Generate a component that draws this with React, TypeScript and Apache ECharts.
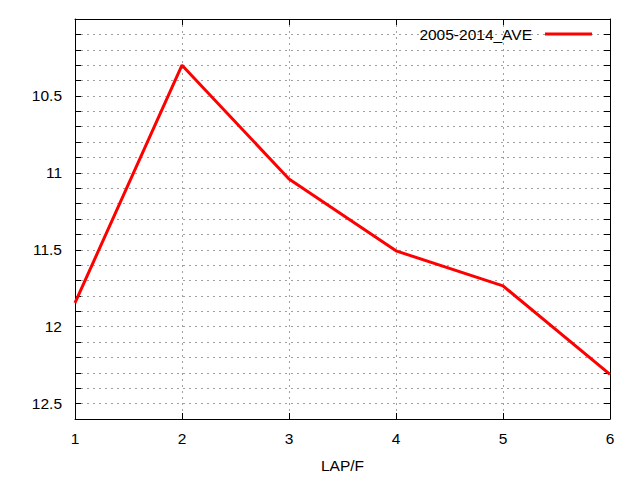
import React, { useEffect, useRef } from "react";
import * as echarts from "echarts";

const laps = [1, 2, 3, 4, 5, 6];
const aveValues = [11.845, 10.3, 11.04, 11.507, 11.735, 12.31];
const seriesName = "2005-2014_AVE";
const xName = "LAP/F";

const FONT = "Liberation Sans, Arial, sans-serif";
const FS = 15.5;

export default function App() {
  const ref = useRef<HTMLDivElement>(null);
  useEffect(() => {
    if (!ref.current) return;
    const chart = echarts.init(ref.current, null, { renderer: "svg" });
    const grid = "#a0a0a0";
    const yLabel = (v: number) => {
      const r = Math.round(v * 10) / 10;
      if (Math.abs(r * 2 - Math.round(r * 2)) < 1e-6 && Math.abs(r - 10) > 1e-6) return String(r);
      return "";
    };
    const common = {
      axisLine: { show: true, lineStyle: { color: "#000", width: 1 } },
      axisTick: { show: true, inside: true, length: 6, lineStyle: { color: "#000", width: 1 } },
    };
    chart.setOption({
      animation: false,
      backgroundColor: "#fff",
      textStyle: { fontFamily: FONT },
      grid: { left: 75, right: 30, top: 19, bottom: 61, containLabel: false },
      legend: {
        show: true,
        right: 43,
        top: 21,
        align: "right",
        icon: "rect",
        itemWidth: 47,
        itemHeight: 3,
        textStyle: { fontFamily: FONT, fontSize: FS, color: "#000", padding: [0, 8, 0, 0] },
        data: [{ name: seriesName, icon: "rect" }],
      },
      xAxis: [
        {
          type: "value",
          min: 1,
          max: 6,
          interval: 1,
          position: "bottom",
          name: xName,
          nameLocation: "middle",
          nameGap: 38,
          nameTextStyle: { fontFamily: FONT, fontSize: FS, color: "#000" },
          ...common,
          axisLabel: { fontFamily: FONT, fontSize: FS, color: "#000", margin: 11 },
          splitLine: { show: true, lineStyle: { color: grid, type: [2, 4], width: 1 } },
        },
        {
          type: "value",
          min: 1,
          max: 6,
          interval: 1,
          position: "top",
          ...common,
          axisLabel: { show: false },
          splitLine: { show: false },
        },
      ],
      yAxis: [
        {
          type: "value",
          inverse: true,
          min: 10,
          max: 12.6,
          interval: 0.1,
          position: "left",
          ...common,
          axisLabel: { fontFamily: FONT, fontSize: FS, color: "#000", margin: 13, formatter: yLabel },
          splitLine: { show: true, lineStyle: { color: grid, type: [2, 4], width: 1 } },
        },
        {
          type: "value",
          inverse: true,
          min: 10,
          max: 12.6,
          interval: 0.1,
          position: "right",
          ...common,
          axisLabel: { show: false },
          splitLine: { show: false },
        },
      ],
      series: [
        {
          name: seriesName,
          type: "line",
          xAxisIndex: 0,
          yAxisIndex: 0,
          data: laps.map((x, i) => [x, aveValues[i]]),
          showSymbol: false,
          symbol: "none",
          lineStyle: { color: "#ff0000", width: 3 },
          itemStyle: { color: "#ff0000" },
        },
      ],
    });
    return () => chart.dispose();
  }, []);
  return <div ref={ref} style={{ width: 640, height: 480, position: "absolute", left: 0, top: 0 }} />;
}
